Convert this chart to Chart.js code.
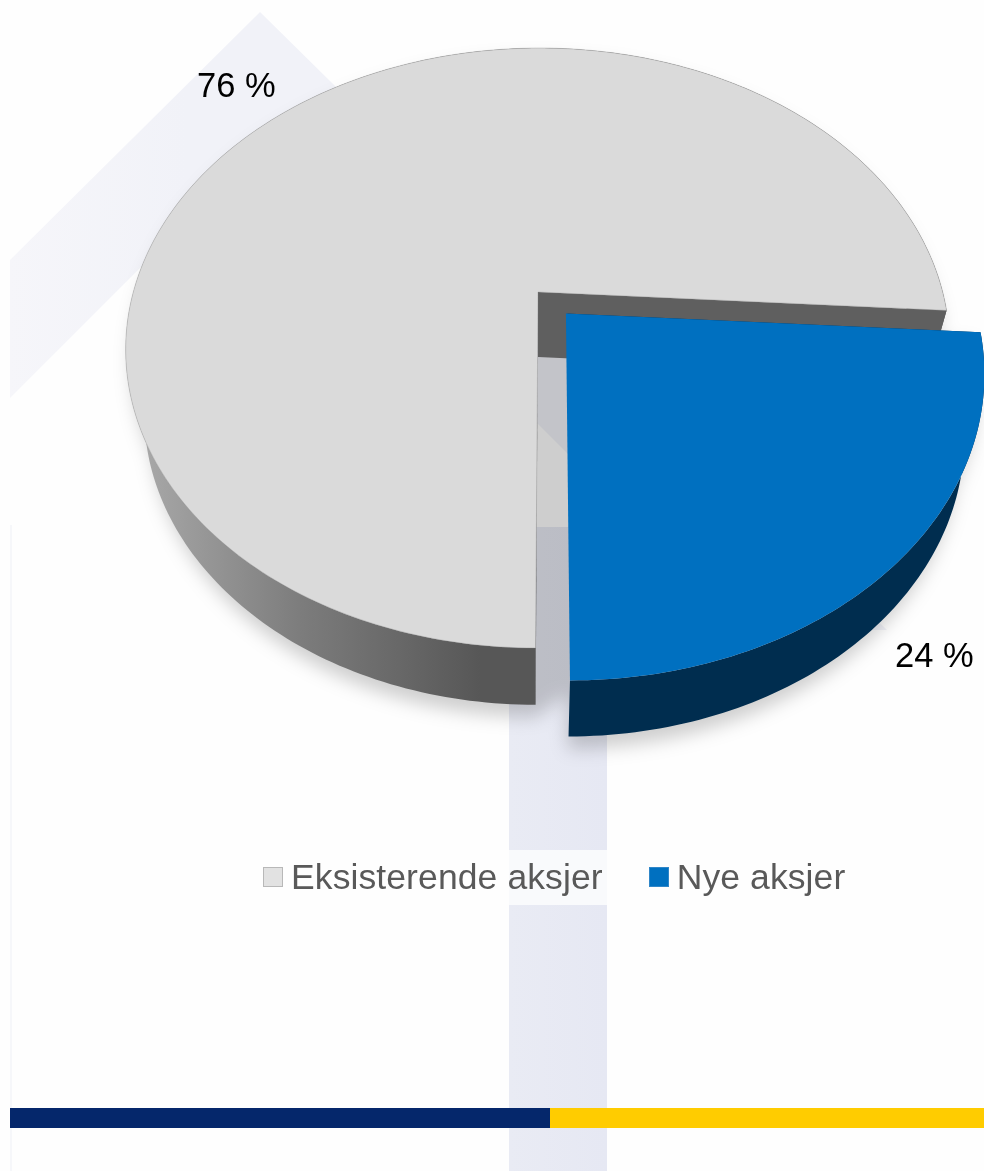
<!DOCTYPE html>
<html lang="no">
<head>
<meta charset="utf-8">
<title>Eksisterende og nye aksjer</title>
<script src="https://cdn.jsdelivr.net/npm/chart.js@4"></script>
<style>
  html, body { margin: 0; padding: 0; background: #fefefe; overflow: hidden; }
  #page { position: relative; width: 984px; height: 1171px; overflow: hidden; font-family: "Liberation Sans", Arial, sans-serif; }
  #page > * { position: absolute; }
  #roof { left: 0; top: 0; }
  #band { left: 509px; top: 527px; width: 98px; height: 644px; background: linear-gradient(90deg, #e9ebf4, #e6e8f3); }
  #edge { left: 10px; top: 525px; width: 2px; height: 646px; background: #f6f7fa; }
  #bar-navy { left: 10px; top: 1108px; width: 540px; height: 20px; background: #05276b; }
  #bar-yellow { left: 550px; top: 1108px; width: 434px; height: 20px; background: #ffcc00; }
  #legend-patch { left: 509px; top: 850px; width: 98px; height: 55px; background: #f9fafc; }
  #pie { left: 0; top: 0; }
  #legend { left: 263px; top: 857px; display: flex; font-size: 35.5px; line-height: 40px; letter-spacing: 0.1px; color: #595959; white-space: nowrap; font-kerning: none; }
  .legend-item { display: flex; align-items: center; margin-right: 46px; }
  .legend-box { width: 20px; height: 20px; box-sizing: border-box; margin-right: 8px; border: 1px solid; }
</style>
</head>
<body>
<div id="page">
  <svg id="roof" width="984" height="1171">
    <defs>
      <linearGradient id="roof-fill" x1="0" x2="1" y1="0" y2="0">
        <stop offset="0" stop-color="#f6f6fa"/>
        <stop offset="0.2" stop-color="#f1f2f8"/>
      </linearGradient>
    </defs>
    <polygon fill="url(#roof-fill)" points="10,260 260,12 887,630 744,630 261,147 10,398"/>
  </svg>
  <div id="band"></div>
  <div id="edge"></div>
  <div id="bar-navy"></div>
  <div id="bar-yellow"></div>
  <div id="legend-patch"></div>
  <canvas id="pie" width="984" height="1171"></canvas>
  <div id="legend"></div>
</div>

<script>
'use strict';

const categories = ['Eksisterende aksjer', 'Nye aksjer'];
const shares     = [76, 24];
const offsets    = [0, 164];

const topColors    = ['#dadada', '#0070c0'];
const legendEdges  = ['#b8b8b8', '#2f86c8'];
const labelAnchors = [[197, 97], [895, 667]];

// Camera used for the tilted disc: w shrinks towards the viewer's edge
const view = {
  x: 538, y: 292,
  rx: 404.7, ry: 289.5,
  tilt: 0.1867,
  shear: 2,
  depth: 65,
  floorX: 0.955, floorY: 0.977,
};

function project(u, v, floor) {
  const w  = 1 - view.tilt * v;
  const px = view.rx * u / w - view.shear * v / w;
  const py = view.ry * v / w;
  if (floor) return [view.x + view.floorX * px, view.y + view.depth + view.floorY * py];
  return [view.x + px, view.y + py];
}

// Unit-disc outline of one slice, taken from the arc element the library laid out
function sliceOutline(arc) {
  const { startAngle, endAngle, outerRadius } = arc.getProps(['startAngle', 'endAngle', 'outerRadius'], true);
  const mid  = (startAngle + endAngle) / 2;
  const push = (arc.options.offset / 4) / outerRadius;
  const apex = [Math.cos(mid) * push, Math.sin(mid) * push];
  const rim  = [];
  const steps = Math.ceil((endAngle - startAngle) / (Math.PI / 180));
  for (let i = 0; i <= steps; i++) {
    const a = startAngle + (endAngle - startAngle) * i / steps;
    rim.push([apex[0] + Math.cos(a), apex[1] + Math.sin(a)]);
  }
  return { apex, rim };
}

function tracePath(ctx, pts) {
  ctx.beginPath();
  pts.forEach((p, i) => (i ? ctx.lineTo(p[0], p[1]) : ctx.moveTo(p[0], p[1])));
  ctx.closePath();
}

function faces(arc) {
  const { apex, rim } = sliceOutline(arc);
  const up   = p => project(p[0], p[1], false);
  const down = p => project(p[0], p[1], true);
  const first = rim[0];
  const last  = rim[rim.length - 1];
  return {
    top:   [up(apex), ...rim.map(up)],
    floor: [down(apex), ...rim.map(down)],
    side:  [...rim.map(up), ...rim.map(down).reverse()],
    cutA:  [up(apex), up(first), down(first)],
    cutB:  [up(apex), up(last), down(last), down(apex)],
    apexDown: down(apex), apexUp: up(apex),
    startDown: down(first),
  };
}

function drawShadow(ctx, chart, grey, blue) {
  const off = document.createElement('canvas');
  off.width = chart.width;
  off.height = chart.height;
  const o = off.getContext('2d');
  o.fillStyle = '#000';
  // pulled in a little sideways so nothing shows along the far rim
  o.translate(view.x, 0);
  o.scale(0.985, 1);
  o.translate(-view.x, 0);
  [grey, blue].forEach(f => {
    [f.top, f.floor, f.side, f.cutA, f.cutB].forEach(poly => { tracePath(o, poly); o.fill(); });
  });
  // bridge across the gap so both slices throw one shadow
  tracePath(o, [grey.apexDown, grey.startDown, blue.startDown, blue.apexUp]);
  o.fill();

  ctx.save();
  ctx.shadowColor = 'rgba(0,0,0,0.19)';
  ctx.shadowBlur = 18;
  ctx.shadowOffsetX = chart.width * 2;
  ctx.shadowOffsetY = 12;
  ctx.drawImage(off, -chart.width * 2, 0);
  ctx.restore();
}

function fillPoly(ctx, pts, fill) {
  tracePath(ctx, pts);
  ctx.fillStyle = fill;
  ctx.fill();
}

const tiltedPie = {
  id: 'tiltedPie',
  beforeDatasetsDraw(chart) {
    const ctx  = chart.ctx;
    const arcs = chart.getDatasetMeta(0).data;
    const grey = faces(arcs[0]);
    const blue = faces(arcs[1]);

    drawShadow(ctx, chart, grey, blue);

    // grey slice: rim wall with its sideways shading, cut walls, then the top
    const rimShade = ctx.createLinearGradient(124, 0, 480, 0);
    rimShade.addColorStop(0, '#adadad');
    rimShade.addColorStop(0.5, '#7c7c7c');
    rimShade.addColorStop(1, '#575757');
    fillPoly(ctx, grey.side, rimShade);
    fillPoly(ctx, grey.cutA, '#575757');
    fillPoly(ctx, grey.cutB, '#5f5f5f');
    fillPoly(ctx, grey.top, topColors[0]);
    ctx.strokeStyle = 'rgba(130,130,130,0.45)';
    ctx.lineWidth = 0.7;
    tracePath(ctx, grey.top);
    ctx.stroke();

    // blue slice
    fillPoly(ctx, blue.side, '#002d4f');
    fillPoly(ctx, blue.cutA, '#002d4f');
    fillPoly(ctx, blue.top, topColors[1]);
    return false;
  },
  afterDraw(chart) {
    const ctx = chart.ctx;
    ctx.save();
    ctx.font = '34.5px "Liberation Sans", Arial, sans-serif';
    ctx.fillStyle = '#000';
    ctx.textBaseline = 'alphabetic';
    shares.forEach((v, i) => ctx.fillText(`${v} %`, labelAnchors[i][0], labelAnchors[i][1]));
    ctx.restore();
  },
};

new Chart(document.getElementById('pie'), {
  type: 'pie',
  data: {
    labels: categories,
    datasets: [{
      data: shares,
      backgroundColor: topColors,
      borderWidth: 0,
      offset: offsets,
    }],
  },
  options: {
    responsive: false,
    animation: false,
    rotation: 180,
    events: [],
    plugins: { legend: { display: false }, tooltip: { enabled: false } },
  },
  plugins: [tiltedPie],
});

const legendEl = document.getElementById('legend');
categories.forEach((name, i) => {
  const item = document.createElement('div');
  item.className = 'legend-item';
  const box = document.createElement('span');
  box.className = 'legend-box';
  box.style.background = i === 0 ? '#e2e2e2' : topColors[i];
  box.style.borderColor = legendEdges[i];
  item.appendChild(box);
  item.appendChild(document.createTextNode(name));
  legendEl.appendChild(item);
});
</script>
</body>
</html>
